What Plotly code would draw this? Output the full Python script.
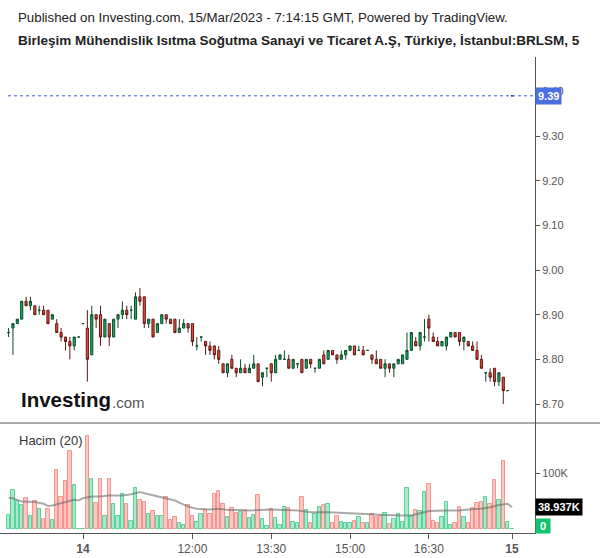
import plotly.graph_objects as go

W, H = 600, 558

# ---------------- data ----------------
opens = [8.86, 8.87, 8.88, 8.89, 8.93, 8.92, 8.92, 8.91, 8.91, 8.91,
         8.89, 8.88, 8.86, 8.85, 8.84, 8.83, 8.85, 8.88, 8.87, 8.81,
         8.90, 8.90, 8.85, 8.88, 8.85, 8.89, 8.90, 8.91, 8.91, 8.89,
         8.94, 8.94, 8.88, 8.89, 8.86, 8.88, 8.90, 8.89, 8.89, 8.86,
         8.87, 8.88, 8.88, 8.83, 8.85, 8.84, 8.83, 8.83, 8.82, 8.79,
         8.77, 8.80, 8.78, 8.77, 8.78, 8.77, 8.78, 8.79, 8.76, 8.78,
         8.79, 8.77, 8.80, 8.80, 8.80, 8.78, 8.79, 8.80, 8.78, 8.80,
         8.78, 8.78, 8.81, 8.80, 8.82, 8.81, 8.80, 8.81, 8.82, 8.83,
         8.82, 8.82, 8.82, 8.81, 8.80, 8.80, 8.78, 8.79, 8.78, 8.79,
         8.79, 8.80, 8.82, 8.84, 8.83, 8.85, 8.89, 8.85, 8.84, 8.83,
         8.83, 8.85, 8.86, 8.86, 8.84, 8.84, 8.83, 8.82, 8.80, 8.77,
         8.77, 8.78, 8.75, 8.76, 8.73, 9.39]
highs = [8.87, 8.88, 8.89, 8.93, 8.94, 8.94, 8.92, 8.92, 8.92, 8.91,
         8.90, 8.89, 8.87, 8.85, 8.85, 8.85, 8.85, 8.88, 8.91, 8.92,
         8.90, 8.92, 8.89, 8.88, 8.89, 8.90, 8.93, 8.92, 8.92, 8.95,
         8.96, 8.94, 8.89, 8.89, 8.88, 8.90, 8.90, 8.89, 8.89, 8.89,
         8.89, 8.88, 8.88, 8.85, 8.85, 8.84, 8.84, 8.83, 8.83, 8.79,
         8.79, 8.81, 8.78, 8.80, 8.79, 8.79, 8.81, 8.79, 8.77, 8.78,
         8.79, 8.81, 8.81, 8.82, 8.81, 8.80, 8.79, 8.80, 8.80, 8.80,
         8.78, 8.80, 8.82, 8.82, 8.82, 8.81, 8.82, 8.82, 8.83, 8.83,
         8.83, 8.83, 8.82, 8.81, 8.82, 8.80, 8.80, 8.79, 8.79, 8.80,
         8.81, 8.86, 8.86, 8.85, 8.86, 8.89, 8.90, 8.86, 8.85, 8.84,
         8.85, 8.86, 8.86, 8.86, 8.85, 8.84, 8.84, 8.84, 8.81, 8.77,
         8.78, 8.78, 8.77, 8.76, 8.73, 9.39]
lows = [8.85, 8.81, 8.88, 8.89, 8.92, 8.91, 8.90, 8.90, 8.90, 8.88,
        8.89, 8.86, 8.84, 8.82, 8.80, 8.82, 8.85, 8.88, 8.75, 8.81,
        8.87, 8.83, 8.85, 8.83, 8.85, 8.87, 8.89, 8.89, 8.89, 8.89,
        8.92, 8.87, 8.87, 8.85, 8.86, 8.88, 8.88, 8.88, 8.86, 8.86,
        8.87, 8.86, 8.83, 8.82, 8.84, 8.81, 8.81, 8.80, 8.79, 8.77,
        8.76, 8.78, 8.76, 8.77, 8.77, 8.77, 8.78, 8.75, 8.74, 8.76,
        8.75, 8.77, 8.80, 8.80, 8.78, 8.78, 8.78, 8.77, 8.78, 8.78,
        8.77, 8.78, 8.79, 8.80, 8.81, 8.79, 8.80, 8.80, 8.82, 8.81,
        8.82, 8.81, 8.82, 8.79, 8.79, 8.78, 8.76, 8.77, 8.76, 8.79,
        8.79, 8.80, 8.82, 8.83, 8.82, 8.84, 8.84, 8.84, 8.83, 8.83,
        8.82, 8.85, 8.85, 8.83, 8.82, 8.83, 8.82, 8.80, 8.78, 8.75,
        8.75, 8.74, 8.74, 8.70, 8.73, 9.39]
closes = [8.86, 8.88, 8.89, 8.93, 8.92, 8.93, 8.90, 8.91, 8.90, 8.88,
          8.90, 8.86, 8.85, 8.84, 8.83, 8.85, 8.85, 8.88, 8.80, 8.90,
          8.89, 8.85, 8.89, 8.85, 8.89, 8.90, 8.91, 8.90, 8.91, 8.94,
          8.93, 8.88, 8.89, 8.85, 8.88, 8.90, 8.89, 8.88, 8.86, 8.87,
          8.88, 8.87, 8.84, 8.83, 8.85, 8.83, 8.82, 8.81, 8.80, 8.77,
          8.79, 8.78, 8.77, 8.78, 8.77, 8.78, 8.79, 8.75, 8.77, 8.78,
          8.77, 8.80, 8.81, 8.80, 8.78, 8.80, 8.79, 8.77, 8.80, 8.79,
          8.78, 8.80, 8.79, 8.82, 8.81, 8.80, 8.81, 8.82, 8.83, 8.81,
          8.82, 8.81, 8.82, 8.80, 8.79, 8.78, 8.79, 8.78, 8.79, 8.80,
          8.81, 8.82, 8.86, 8.83, 8.86, 8.85, 8.87, 8.84, 8.83, 8.84,
          8.85, 8.86, 8.85, 8.84, 8.85, 8.83, 8.82, 8.80, 8.78, 8.77,
          8.76, 8.75, 8.77, 8.73, 8.73, 9.39]
volumes_k = [25, 70, 50, 42, 55, 23, 50, 35, 18, 35,
             16, 105, 57, 85, 140, 79, 0.6, 0.6, 166, 89,
             46, 89, 23, 89, 45, 24, 62, 45, 14, 73,
             51, 49, 27, 32, 23, 24, 58, 16, 21, 10,
             7, 42, 23, 13, 26, 34, 27, 62, 68, 44,
             21, 37, 28, 30, 32, 19, 25, 60, 18, 5,
             35, 19, 8, 40, 37, 12, 11, 57, 34, 11,
             26, 40, 42, 44, 11, 23, 12, 11, 11, 14,
             21, 11, 11, 26, 21, 24, 28, 9, 18, 26,
             12, 73, 23, 34, 32, 66, 80, 14, 11, 21,
             48, 8, 10, 39, 21, 10, 37, 46, 48, 58,
             45, 87, 51, 121, 12, 0.6]
# volume moving average (20), read at these bar positions
ma_idx = [0, 1, 3, 4, 6, 8, 9, 10, 12, 13, 15, 16, 17, 19, 21, 23, 26, 28, 30,
          32, 34, 36, 38, 39, 41, 43, 46, 48, 50, 53, 55, 60, 63, 66, 69, 73,
          78, 82, 86, 89, 92, 94, 96, 100, 103, 105, 108, 110, 112, 114, 115]
ma_k = [56, 55, 49, 49, 48, 45, 41, 42, 46, 49, 52, 51, 55, 58, 58, 60, 60, 62, 66,
        62, 58, 55, 51, 47, 40, 36, 35, 36, 34, 34, 33, 35, 34, 33, 30, 30,
        28, 26, 25, 24, 24, 28, 32, 33, 33, 35, 36, 39, 43, 45, 38.937]

# bar time labels (5-minute bars, BIST session with auction bars)
times = []
for m in range(16 * 60 + 40, 18 * 60, 5):
    times.append(("13", f"{m // 60:02d}:{m % 60:02d}"))
times.append(("13", "18:05"))
times.append(("14", "09:55"))
for m in range(10 * 60, 18 * 60, 5):
    times.append(("14", f"{m // 60:02d}:{m % 60:02d}"))
times.append(("14", "18:05"))
times.append(("15", "09:55"))
tick_times = ["12:00", "13:30", "15:00", "16:30"]

# ---------------- derived ----------------
x = list(range(len(times)))
tickvals, ticktext = [], []
for i, (d, t) in enumerate(times):
    if i > 0 and d != times[i - 1][0]:
        tickvals.append(i)
        ticktext.append(f"<b>{d}</b>")
    elif t in tick_times and d == "14":
        tickvals.append(i)
        ticktext.append(t)

up = [c >= o for o, c in zip(opens, closes)]
volumes = [v * 1000 for v in volumes_k]
ma = [v * 1000 for v in ma_k]

G_FILL, G_LINE = "#16b062", "#0d4a2b"
R_FILL, R_LINE = "#ef4a3c", "#5e1a14"
VG_FILL, VG_LINE = "#a9e8cb", "#5ad39a"
VR_FILL, VR_LINE = "#ffc6c3", "#f39690"
FONT = "Liberation Sans, Arial, sans-serif"

# pixel geometry of the panels
PX_X_AXIS = 535
PX_PRICE_TOP, PX_SPLIT, PX_VOL_BOTTOM = 57, 423, 533


def price_at(py):
    return 9.30 - (py - 136) / 446.7


def vol_at(py):
    return (529 - py) / 56 * 100000


def bar_at(px):
    return (px - 8.57) / 4.378


fig = go.Figure()

for flag, fill, line in [(True, G_FILL, G_LINE), (False, R_FILL, R_LINE)]:
    idx = [i for i in x if up[i] == flag]
    style = dict(line=dict(color=line, width=1), fillcolor=fill)
    fig.add_trace(go.Candlestick(
        x=idx, open=[opens[i] for i in idx], high=[highs[i] for i in idx],
        low=[lows[i] for i in idx], close=[closes[i] for i in idx],
        increasing=style, decreasing=style, whiskerwidth=0,
        xaxis="x", yaxis="y", showlegend=False, hoverinfo="skip"))

fig.add_trace(go.Bar(
    x=x, y=volumes, width=0.78,
    marker=dict(color=[VG_FILL if u else VR_FILL for u in up],
                line=dict(color=[VG_LINE if u else VR_LINE for u in up], width=1)),
    xaxis="x2", yaxis="y2", showlegend=False, hoverinfo="skip"))

fig.add_trace(go.Scatter(
    x=ma_idx, y=ma, mode="lines",
    line=dict(color="rgba(100,100,100,0.55)", width=2),
    xaxis="x2", yaxis="y2", showlegend=False, hoverinfo="skip"))

xr = [bar_at(0), bar_at(PX_X_AXIS)]
xdom = [0, PX_X_AXIS / W]
price_ticks = [8.7, 8.8, 8.9, 9.0, 9.1, 9.2, 9.3, 9.4]

fig.update_layout(
    width=W, height=H, margin=dict(l=0, r=0, t=0, b=0),
    paper_bgcolor="white", plot_bgcolor="white",
    font=dict(family=FONT, color="#555"),
    bargap=0,
    xaxis=dict(domain=xdom, range=xr, anchor="y", showticklabels=False,
               showgrid=False, zeroline=False, showline=False,
               rangeslider=dict(visible=False), matches="x2"),
    xaxis2=dict(domain=xdom, range=xr, anchor="y2", tickvals=tickvals,
                ticktext=ticktext, ticks="outside", ticklen=5, tickcolor="#555",
                showline=True, linecolor="#555", linewidth=1, showgrid=False,
                zeroline=False, tickfont=dict(size=12, color="#555")),
    yaxis=dict(domain=[1 - PX_SPLIT / H, 1 - PX_PRICE_TOP / H],
               range=[price_at(PX_SPLIT), price_at(PX_PRICE_TOP)],
               side="right", anchor="x", tickvals=price_ticks,
               ticktext=[f"{v:.2f}" for v in price_ticks],
               ticks="outside", ticklen=4, tickcolor="#555",
               showline=True, linecolor="#555", linewidth=1,
               showgrid=False, zeroline=False,
               tickfont=dict(size=11, color="#555")),
    yaxis2=dict(domain=[1 - PX_VOL_BOTTOM / H, 1 - PX_SPLIT / H],
                range=[vol_at(PX_VOL_BOTTOM), vol_at(PX_SPLIT)],
                side="right", anchor="x2", tickvals=[100000], ticktext=["100K"],
                ticks="outside", ticklen=4, tickcolor="#555",
                showline=True, linecolor="#555", linewidth=1,
                showgrid=False, zeroline=False,
                tickfont=dict(size=11, color="#555")),
)

shapes = [
    dict(type="line", xref="paper", yref="y", x0=8 / W, x1=PX_X_AXIS / W,
         y0=closes[-1], y1=closes[-1], line=dict(color="#3f5fd8", width=1, dash="dot")),
    dict(type="line", xref="paper", yref="paper", x0=0, x1=1,
         y0=1 - PX_SPLIT / H, y1=1 - PX_SPLIT / H, line=dict(color="#555", width=1)),
]

annotations = [
    dict(text="Published on Investing.com, 15/Mar/2023 - 7:14:15 GMT, Powered by TradingView.",
         x=16 / W, y=1 - 18 / H, xref="paper", yref="paper", xanchor="left",
         yanchor="middle", showarrow=False, font=dict(size=13.3, color="#222", family=FONT)),
    dict(text="<b>Birleşim Mühendislik Isıtma Soğutma Sanayi ve Ticaret A.Ş, Türkiye, İstanbul:BRLSM, 5</b>",
         x=16 / W, y=1 - 41 / H, xref="paper", yref="paper", xanchor="left",
         yanchor="middle", showarrow=False, font=dict(size=13.5, color="#222", family=FONT)),
    dict(text="Hacim (20)", x=17 / W, y=1 - 440 / H, xref="paper", yref="paper",
         xanchor="left", yanchor="middle", showarrow=False,
         font=dict(size=13, color="#333", family=FONT)),
    dict(text="<b>Investing</b>", x=19 / W, y=1 - 399 / H, xref="paper", yref="paper",
         xanchor="left", yanchor="middle", showarrow=False,
         font=dict(size=20.5, color="#111", family=FONT)),
    dict(text=".com", x=110 / W, y=1 - 402 / H, xref="paper", yref="paper",
         xanchor="left", yanchor="middle", showarrow=False,
         font=dict(size=15, color="#555", family=FONT)),
    dict(text=f"<b>{closes[-1]:.2f}</b>", x=PX_X_AXIS / W, y=closes[-1], xref="paper",
         yref="y", xanchor="left", yanchor="middle", showarrow=False,
         bgcolor="#4a6fe0", borderpad=2, font=dict(size=11, color="white", family=FONT)),
    dict(text=f"<b>{ma_k[-1]:.3f}K</b>", x=PX_X_AXIS / W, y=ma[-1], xref="paper",
         yref="y2", xanchor="left", yanchor="middle", showarrow=False,
         bgcolor="#000", borderpad=2, font=dict(size=11, color="white", family=FONT)),
    dict(text="<b> 0 </b>", x=PX_X_AXIS / W, y=0, xref="paper", yref="y2",
         xanchor="left", yanchor="middle", yshift=3, showarrow=False,
         bgcolor="#12c46d", borderpad=1, font=dict(size=11, color="white", family=FONT)),
]

fig.update_layout(shapes=shapes, annotations=annotations)
fig.write_html("out.html")
